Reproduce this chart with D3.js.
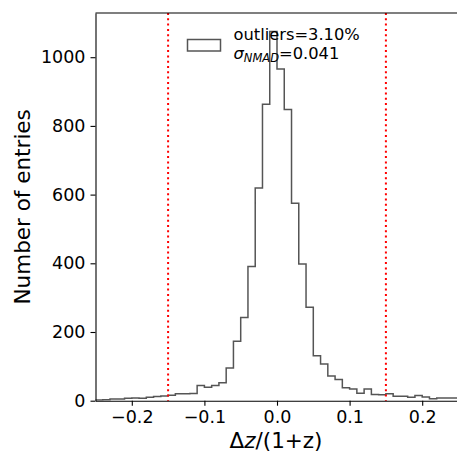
<!DOCTYPE html>
<html>
<head>
<meta charset="utf-8">
<script src="https://cdn.jsdelivr.net/npm/d3@7"></script>
<style>
  html, body { margin: 0; padding: 0; background: #fff; }
  svg { display: block; font-family: "DejaVu Sans", sans-serif; }
</style>
</head>
<body>
<svg id="chart" width="457" height="453"></svg>
<script>
// ---- data ----
const binStart = -0.25;
const binWidth = 0.01;
const counts = [
  2, 3, 5, 5, 7, 8, 7, 10, 12, 14,
  16, 20, 20, 21, 44, 39, 44, 52, 95, 173,
  242, 391, 619, 863, 1075, 966, 848, 575, 398, 272,
  131, 107, 72, 62, 38, 34, 22, 34, 18, 17,
  20, 13, 13, 10, 15, 11, 6, 8, 8, 8
];
const xTicks = [-0.2, -0.1, 0.0, 0.1, 0.2];
const yTicks = [0, 200, 400, 600, 800, 1000];
const cutLines = [-0.15, 0.15];
const legendLine1 = "outliers=3.10%";
const legendSigmaValue = "=0.041";

(function () {
// ---- layout ----
const mL = 95.5, mR = 458.5, mT = 13, mB = 400.7;
const svg = d3.select("#chart");

const x = d3.scaleLinear().domain([-0.25, 0.25]).range([mL, mR]);
const y = d3.scaleLinear().domain([0, 1128.7]).range([mB, mT]);

// histogram step outline
const pts = [[binStart, 0]];
counts.forEach((c, i) => {
  const x0 = binStart + i * binWidth;
  pts.push([x0, c]);
  pts.push([x0 + binWidth, c]);
});
pts.push([binStart + counts.length * binWidth, 0]);

svg.append("defs").append("clipPath").attr("id", "clip")
  .append("rect").attr("x", mL).attr("y", mT).attr("width", mR - mL).attr("height", mB - mT);

svg.append("path")
  .datum(pts)
  .attr("clip-path", "url(#clip)")
  .attr("fill", "none")
  .attr("stroke", "#555")
  .attr("stroke-width", 1.5)
  .attr("stroke-linejoin", "miter")
  .attr("d", d3.line().x(d => x(d[0])).y(d => y(d[1])));

// red dotted lines
svg.selectAll(".cut").data(cutLines).enter().append("line")
  .attr("x1", d => x(d)).attr("x2", d => x(d))
  .attr("y1", mT).attr("y2", mB)
  .attr("stroke", "#ff0000")
  .attr("stroke-width", 2)
  .attr("stroke-dasharray", "2,3.3");

// axes
const fmtX = d => (d < 0 ? "\u2212" : "") + Math.abs(d).toFixed(1);
const xAxis = svg.append("g").attr("transform", `translate(0,${mB})`)
  .call(d3.axisBottom(x).tickValues(xTicks).tickFormat(fmtX).tickSize(5).tickSizeOuter(0).tickPadding(5));
const yAxis = svg.append("g").attr("transform", `translate(${mL},0)`)
  .call(d3.axisLeft(y).tickValues(yTicks).tickFormat(d3.format("d")).tickSize(5).tickSizeOuter(0).tickPadding(5));

[xAxis, yAxis].forEach(g => {
  g.select(".domain").attr("stroke", "#000").attr("stroke-width", 1.1);
  g.selectAll(".tick line").attr("stroke", "#000").attr("stroke-width", 1.1);
  g.selectAll(".tick text").attr("fill", "#000").style("font-size", "17.5px").style("font-family", "DejaVu Sans");
});
xAxis.selectAll(".tick text").attr("dy", "0.71em").attr("y", 9.5);

// top and right spines
svg.append("line").attr("x1", mL).attr("x2", mR).attr("y1", mT).attr("y2", mT)
  .attr("stroke", "#000").attr("stroke-width", 1.1);
svg.append("line").attr("x1", mR).attr("x2", mR).attr("y1", mT).attr("y2", mB)
  .attr("stroke", "#000").attr("stroke-width", 1.1);

// axis labels
const xl = svg.append("text")
  .attr("x", 276).attr("y", 447.5)
  .attr("text-anchor", "middle")
  .style("font-size", "21.5px").attr("fill", "#000");
xl.append("tspan").text("\u0394");
xl.append("tspan").style("font-style", "italic").text("z");
xl.append("tspan").text("/(1+z)");

svg.append("text")
  .attr("transform", `translate(30,${(mT + mB) / 2}) rotate(-90)`)
  .attr("text-anchor", "middle")
  .style("font-size", "21.5px").attr("fill", "#000")
  .text("Number of entries");

// legend
svg.append("rect")
  .attr("x", 187.5).attr("y", 39.5).attr("width", 33).attr("height", 11.5)
  .attr("fill", "none").attr("stroke", "#555").attr("stroke-width", 1.5);

svg.append("text").attr("x", 233.5).attr("y", 39.8)
  .style("font-size", "16.3px").attr("fill", "#000").text(legendLine1);

const l2 = svg.append("text").attr("x", 233.5).attr("y", 58.5)
  .style("font-size", "16.3px").attr("fill", "#000");
l2.append("tspan").style("font-style", "italic").text("\u03c3");
l2.append("tspan").style("font-style", "italic").style("font-size", "11.5px").attr("dy", 3.5).text("NMAD");
l2.append("tspan").attr("dy", -3.5).text(legendSigmaValue);
})();
</script>
</body>
</html>
